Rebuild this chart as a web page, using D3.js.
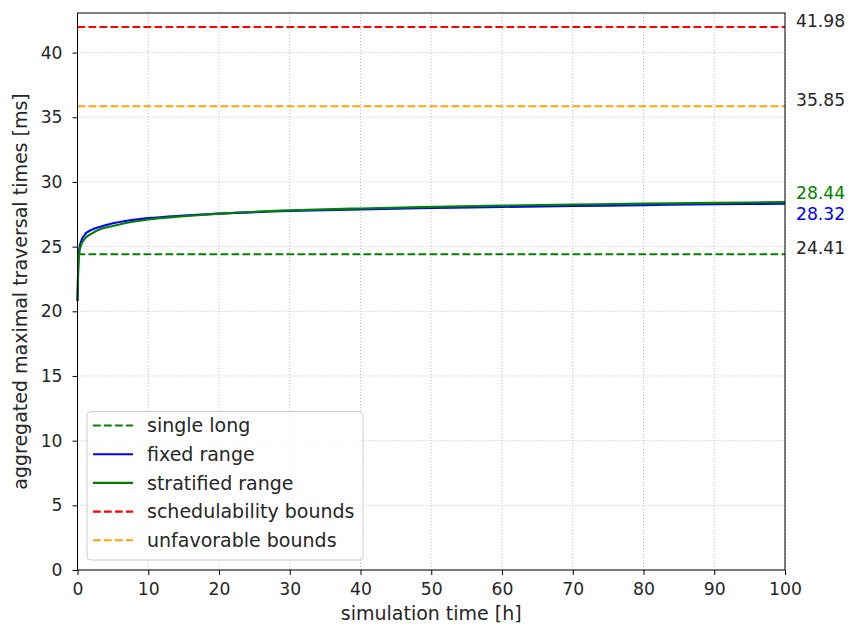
<!DOCTYPE html>
<html>
<head>
<meta charset="utf-8">
<script src="https://cdn.jsdelivr.net/npm/d3@7"></script>
<style>
  body { margin: 0; background: #fff; }
  svg { display: block; font-family: "DejaVu Sans", sans-serif; }
</style>
</head>
<body>
<script>
// sampled times [h]
const times = [0, 0.1, 0.25, 0.5, 1, 2, 3, 5, 7, 10, 15, 20, 30, 40, 50, 60, 70, 80, 90, 100];
// fixed range (blue)
const fixedRange = [20.8, 23.5, 24.8, 25.4, 25.9, 26.3, 26.5, 26.8, 27.0, 27.2, 27.4, 27.55, 27.75, 27.88, 27.98, 28.07, 28.14, 28.21, 28.27, 28.32];
// stratified range (green)
const stratifiedRange = [20.8, 23.2, 24.5, 25.1, 25.6, 26.0, 26.3, 26.6, 26.85, 27.1, 27.35, 27.55, 27.8, 27.95, 28.07, 28.17, 28.25, 28.32, 28.38, 28.44];
// horizontal bounds
const singleLong = 24.41;
const schedulability = 41.98;
const unfavorable = 35.85;

const xTicks = [0, 10, 20, 30, 40, 50, 60, 70, 80, 90, 100];
const yTicks = [0, 5, 10, 15, 20, 25, 30, 35, 40];

const width = 851, height = 629;
const margin = { left: 77.5, right: 66, top: 13, bottom: 59 };
const fs = 17.2;   // ticks, end labels
const fsL = 19;    // axis titles, legend

const x = d3.scaleLinear().domain([0, 100]).range([margin.left, width - margin.right]);
const y = d3.scaleLinear().domain([0, 43.06]).range([height - margin.bottom, margin.top]);

const svg = d3.select("body").append("svg")
  .attr("width", width)
  .attr("height", height);

// grid
const grid = svg.append("g")
  .attr("stroke", "#b0b0b0")
  .attr("stroke-width", 0.8)
  .attr("stroke-dasharray", "1,2");
grid.selectAll("line.v").data(xTicks).join("line")
  .attr("x1", d => x(d)).attr("x2", d => x(d))
  .attr("y1", y(0)).attr("y2", margin.top);
grid.selectAll("line.h").data(yTicks).join("line")
  .attr("x1", margin.left).attr("x2", width - margin.right)
  .attr("y1", d => y(d)).attr("y2", d => y(d));

// bound lines
const bounds = [
  { v: singleLong, color: "green" },
  { v: unfavorable, color: "orange" },
  { v: schedulability, color: "red" }
];
svg.append("g").selectAll("line").data(bounds).join("line")
  .attr("x1", x(0)).attr("x2", x(100))
  .attr("y1", d => y(d.v)).attr("y2", d => y(d.v))
  .attr("stroke", d => d.color)
  .attr("stroke-width", 2.1)
  .attr("stroke-dasharray", "7.7,3.3");

const line = d3.line().x(d => x(d[0])).y(d => y(d[1])).curve(d3.curveMonotoneX);

svg.append("path")
  .datum(d3.zip(times, fixedRange))
  .attr("fill", "none")
  .attr("stroke", "blue")
  .attr("stroke-width", 2.1)
  .attr("d", line);

svg.append("path")
  .datum(d3.zip(times, stratifiedRange))
  .attr("fill", "none")
  .attr("stroke", "green")
  .attr("stroke-width", 2.1)
  .attr("d", line);

// axes
const xAxis = svg.append("g")
  .attr("transform", `translate(0,${y(0)})`)
  .call(d3.axisBottom(x).tickValues(xTicks).tickSize(5).tickPadding(8));
const yAxis = svg.append("g")
  .attr("transform", `translate(${margin.left},0)`)
  .call(d3.axisLeft(y).tickValues(yTicks).tickSize(5).tickPadding(10));
[xAxis, yAxis].forEach(a => {
  a.select(".domain").remove();
  a.selectAll("text").attr("font-size", fs).attr("fill", "#262626").attr("font-family", "DejaVu Sans");
  a.selectAll("line").attr("stroke", "#000").attr("stroke-width", 1);
});
yAxis.selectAll("line").attr("x2", -5);

// frame
svg.append("rect")
  .attr("x", margin.left).attr("y", margin.top)
  .attr("width", width - margin.left - margin.right)
  .attr("height", height - margin.top - margin.bottom)
  .attr("fill", "none").attr("stroke", "#000").attr("stroke-width", 1);

// right side value labels
const endLabels = [
  { v: schedulability, text: "41.98", color: "#262626", dy: 0 },
  { v: unfavorable, text: "35.85", color: "#262626", dy: 0 },
  { v: 28.44, text: "28.44", color: "green", dy: -3 },
  { v: 28.32, text: "28.32", color: "blue", dy: 16 },
  { v: singleLong, text: "24.41", color: "#262626", dy: 0 }
];
svg.append("g").selectAll("text").data(endLabels).join("text")
  .attr("x", x(100) + 11)
  .attr("y", d => y(d.v) + d.dy)
  .attr("fill", d => d.color)
  .attr("font-size", fs)
  .text(d => d.text);

// axis titles
svg.append("text")
  .attr("x", (x(0) + x(100)) / 2)
  .attr("y", 620)
  .attr("text-anchor", "middle")
  .attr("font-size", fsL)
  .attr("fill", "#262626")
  .text("simulation time [h]");
svg.append("text")
  .attr("transform", `translate(27,${(y(0) + margin.top) / 2}) rotate(-90)`)
  .attr("text-anchor", "middle")
  .attr("font-size", fsL)
  .attr("fill", "#262626")
  .text("aggregated maximal traversal times [ms]");

// legend
const legendItems = [
  { label: "single long", color: "green", dash: true },
  { label: "fixed range", color: "blue", dash: false },
  { label: "stratified range", color: "green", dash: false },
  { label: "schedulability bounds", color: "red", dash: true },
  { label: "unfavorable bounds", color: "orange", dash: true }
];
const legend = svg.append("g").attr("transform", "translate(87,411.5)");
legend.append("rect")
  .attr("width", 276).attr("height", 148.5)
  .attr("rx", 4)
  .attr("fill", "#fff").attr("fill-opacity", 0.8)
  .attr("stroke", "#cccccc");
const li = legend.selectAll("g").data(legendItems).join("g")
  .attr("transform", (d, i) => `translate(0,${14 + i * 28.7})`);
li.append("line")
  .attr("x1", 6).attr("x2", 46)
  .attr("stroke", d => d.color)
  .attr("stroke-width", 2.1)
  .attr("stroke-dasharray", d => d.dash ? "7.7,3.3" : null);
li.append("text")
  .attr("x", 60).attr("dy", "0.35em")
  .attr("font-size", fsL)
  .attr("fill", "#262626")
  .text(d => d.label);
</script>
</body>
</html>
